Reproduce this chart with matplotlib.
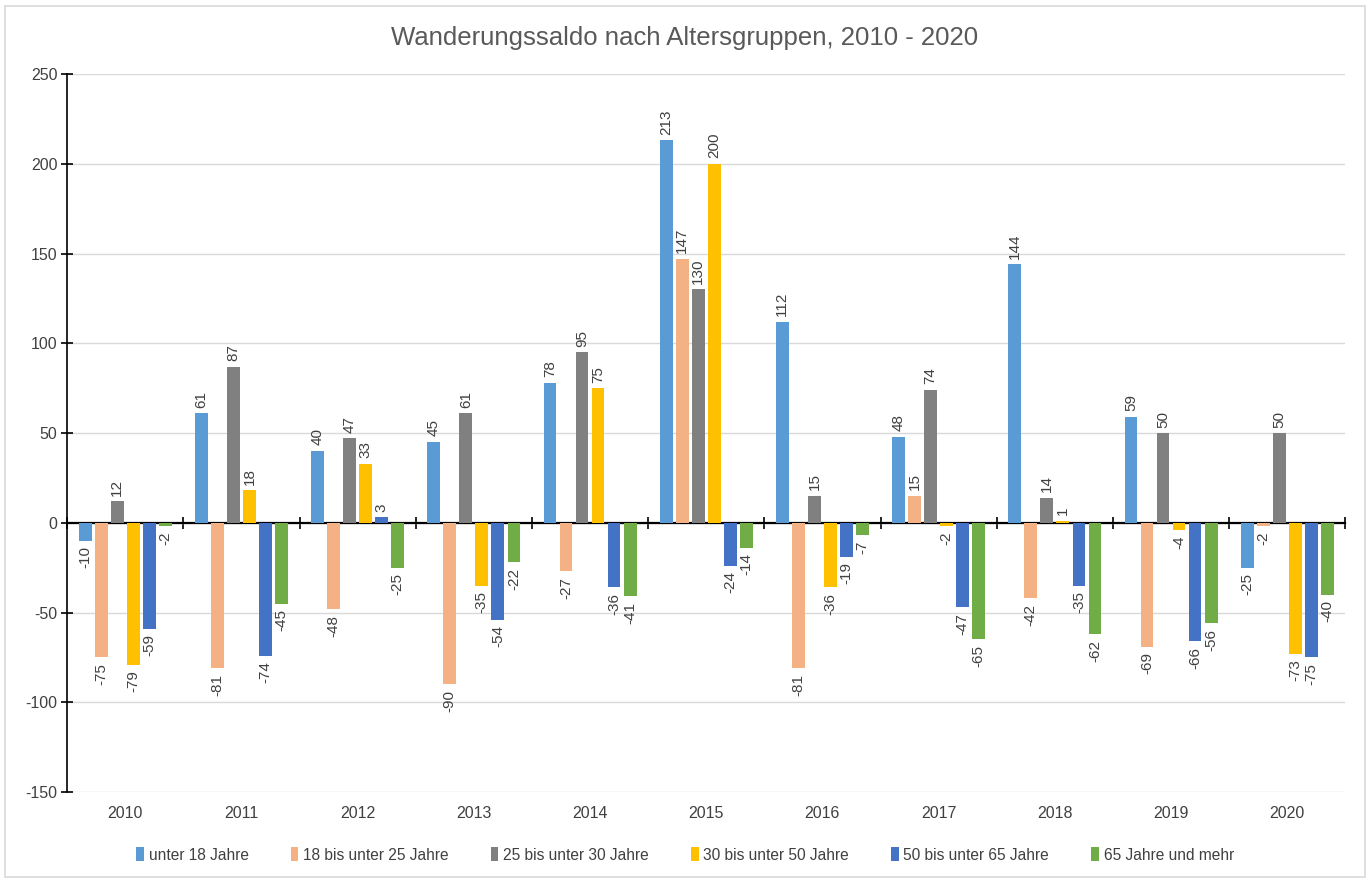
import numpy as np
import matplotlib.pyplot as plt
from matplotlib.patches import Rectangle

plt.rcParams['font.family'] = ['Liberation Sans', 'DejaVu Sans']
plt.rcParams['axes.unicode_minus'] = False

years = ["2010", "2011", "2012", "2013", "2014", "2015", "2016", "2017", "2018", "2019", "2020"]
groups = ["unter 18 Jahre", "18 bis unter 25 Jahre", "25 bis unter 30 Jahre",
          "30 bis unter 50 Jahre", "50 bis unter 65 Jahre", "65 Jahre und mehr"]
unter18 = [-10, 61, 40, 45, 78, 213, 112, 48, 144, 59, -25]
bis25 = [-75, -81, -48, -90, -27, 147, -81, 15, -42, -69, -2]
bis30 = [12, 87, 47, 61, 95, 130, 15, 74, 14, 50, 50]
bis50 = [-79, 18, 33, -35, 75, 200, -36, -2, 1, -4, -73]
bis65 = [-59, -74, 3, -54, -36, -24, -19, -47, -35, -66, -75]
ab65 = [-2, -45, -25, -22, -41, -14, -7, -65, -62, -56, -40]
series = [unter18, bis25, bis30, bis50, bis65, ab65]
colors = ["#5B9BD5", "#F4B183", "#808080", "#FFC000", "#4472C4", "#70AD47"]

txt = "#404040"
fig = plt.figure(figsize=(13.7, 8.82), dpi=100)
ax = fig.add_axes([0.049, 0.102, 0.933, 0.814])

# Rahmen um das Diagramm
fig.patches.append(Rectangle((0.004, 0.006), 0.992, 0.987, transform=fig.transFigure,
                             fill=False, edgecolor="#d9d9d9", lw=1.2))

x = np.arange(len(years))
step = 0.138
width = 0.11
for i, (vals, col, name) in enumerate(zip(series, colors, groups)):
    pos = x + (i - 2.5) * step
    bars = ax.bar(pos, vals, width, color=col, label=name, zorder=3)
    for b, v in zip(bars, vals):
        ax.annotate(str(v), (b.get_x() + b.get_width() / 2, v),
                    xytext=(0, 4 if v >= 0 else -4), textcoords="offset points",
                    ha="center", va="bottom" if v >= 0 else "top",
                    rotation=90, fontsize=11, color=txt, zorder=4)

ax.set_xlim(-0.5, len(years) - 0.5)
ax.set_ylim(-150, 250)
ax.set_yticks(np.arange(-150, 251, 50))
ax.grid(axis="y", color="#d9d9d9", lw=1, zorder=0)
ax.tick_params(axis="y", direction="inout", length=8, width=1.2, colors="black",
               labelcolor=txt, labelsize=11.5, pad=3)

for s in ["top", "right"]:
    ax.spines[s].set_visible(False)
ax.spines["left"].set_linewidth(1.2)
ax.spines["bottom"].set_position(("data", 0))
ax.spines["bottom"].set_linewidth(1.6)
ax.set_xticks(np.arange(-0.5, len(years), 1))
ax.set_xticklabels([])
ax.tick_params(axis="x", direction="inout", length=9, width=1.2)

sec = ax.secondary_xaxis(0.0)
sec.set_xticks(x)
sec.set_xticklabels(years)
sec.tick_params(length=0, labelsize=11.5, labelcolor=txt, pad=10)
sec.spines["bottom"].set_visible(False)

fig.suptitle("Wanderungssaldo nach Altersgruppen, 2010 - 2020", y=0.97,
             fontsize=18.5, color="#595959")

fig.legend(loc="lower center", bbox_to_anchor=(0.5, 0.006), ncol=6, frameon=False,
           fontsize=11.2, labelcolor=txt, handlelength=0.5, handleheight=1.0,
           handletextpad=0.3, columnspacing=2.7)

fig.savefig("out.png", dpi=100)
